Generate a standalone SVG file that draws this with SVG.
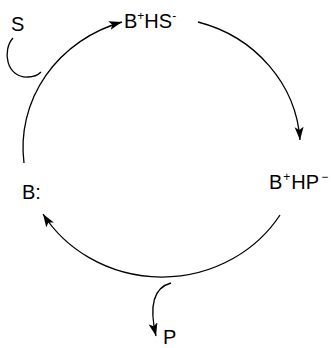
<svg xmlns="http://www.w3.org/2000/svg" width="335" height="348" viewBox="0 0 335 348">
<style>
.t{font-family:"Liberation Sans",Arial,sans-serif;font-size:20px;fill:#000}
.c{fill:none;stroke:#000;stroke-width:1.3}
</style>
<defs>
<marker id="ah" markerUnits="userSpaceOnUse" markerWidth="14" markerHeight="10" refX="13" refY="4.5" orient="auto">
<path d="M0,0 L13,4.5 L0,9 L3,4.5 z" fill="#000"/>
</marker>
</defs>
<g id="connectors">
<path class="c" d="M24,163 A139,131 0 0 1 122,22" marker-end="url(#ah)"/>
<path class="c" d="M198,22 A139,131 0 0 1 300,140" marker-end="url(#ah)"/>
<path class="c" d="M280,215 A139,131 0 0 1 43,214" marker-end="url(#ah)"/>
<path class="c" d="M13,38 C2,50 6,78 28,77 C34,77 38,75 41,72"/>
<path class="c" d="M171,283 C156,287 148,302 156,336" marker-end="url(#ah)"/>
</g>
<g id="S"><text class="t" x="11" y="31">S</text></g>
<g id="BHS"><text class="t" x="124" y="28">B<tspan font-size="12" dy="-8">+</tspan><tspan dy="8">HS</tspan><tspan font-size="12" dy="-8">-</tspan></text></g>
<g id="BHP"><text class="t" x="269" y="189">B<tspan font-size="12" dy="-8" dx="1">+</tspan><tspan dy="8" dx="1">HP</tspan><tspan font-size="12" dy="-8" dx="2">−</tspan></text></g>
<g id="B"><text class="t" x="22" y="199">B:</text></g>
<g id="P"><text class="t" x="163" y="344">P</text></g>
</svg>
